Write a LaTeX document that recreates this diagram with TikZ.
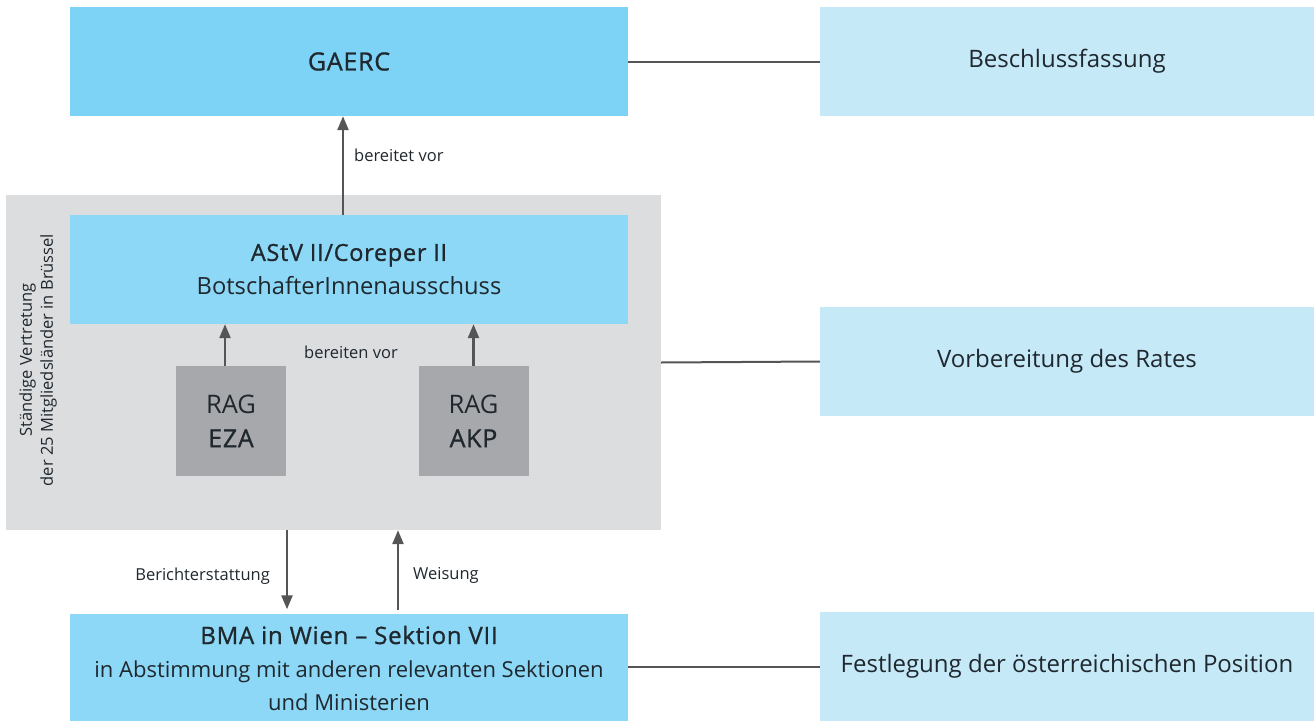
\documentclass[tikz,border=0pt]{standalone}
\usepackage{fontspec}
\setmainfont{Open Sans}
\newfontfamily\headfont{Open Sans}[FakeBold=1,LetterSpace=3]
\usetikzlibrary{arrows.meta,calc}
\definecolor{cgaerc}{HTML}{7DD3F5}
\definecolor{cmid}{HTML}{8DD8F6}
\definecolor{clight}{HTML}{C6E9F8}
\definecolor{cgray}{HTML}{DCDDDF}
\definecolor{crag}{HTML}{A7A8AB}
\definecolor{cline}{HTML}{555555}
\definecolor{ctext}{HTML}{1F282E}
\newcommand{\hd}[2]{{\fontsize{#1}{34}\headfont #2}}
\begin{document}
\begin{tikzpicture}[x=1pt,y=-1pt,
  box/.style={inner sep=0pt, align=center, text=ctext, font=\fontsize{24}{34}\selectfont},
  bigbox/.style={box, minimum width=558pt, minimum height=109pt},
  sidebox/.style={box, fill=clight, minimum width=494pt, minimum height=109pt},
  ragbox/.style={box, fill=crag, minimum width=110pt, minimum height=110pt, font=\fontsize{25.5}{34}\selectfont},
  lbl/.style={inner sep=0pt, text=ctext, font=\fontsize{16.5}{20}\selectfont},
  arr/.style={draw=cline, line width=2.4pt, -{Triangle[length=14pt,width=11pt]}},
  conn/.style={draw=cline, line width=2pt}]
\useasboundingbox (0,0) rectangle (1314,720);
% containers and boxes
\node[box, fill=cgray, minimum width=655pt, minimum height=335pt] (gray) at (333.5,362.5) {};
\node[bigbox, fill=cgaerc] (gaerc) at (349,61.5) {\hd{25}{GAERC}};
\node[sidebox] (besch) at (1067,61.5) {Beschlussfassung};
\node[bigbox, fill=cmid, font=\fontsize{23.7}{34}\selectfont] (astv) at (349,269.5) {\hd{23.5}{AStV II/Coreper II}\\BotschafterInnenausschuss};
\node[ragbox] (eza) at (231,421) {RAG\\\hd{25}{EZA}};
\node[ragbox] (akp) at (473.5,421) {RAG\\\hd{25}{AKP}};
\node[sidebox] (vorb) at (1067,361.5) {Vorbereitung des Rates};
\node[bigbox, fill=cmid, font=\fontsize{22}{33}\selectfont] (bma) at (349,668) {\hd{24}{BMA in Wien – Sektion VII}\\in Abstimmung mit anderen relevanten Sektionen\\und Ministerien};
\node[sidebox] (fest) at (1067,666.5) {Festlegung der österreichischen Position};
\node[rotate=90, align=center, inner sep=0pt, text=ctext, font=\fontsize{16.5}{21}\selectfont] (sv) at (38,360) {Ständige Vertretung\\der 25 Mitgliedsländer in Brüssel};
\node[lbl] (bv) at (351,352) {bereiten vor};
% connectors
\draw[conn] (gaerc.east) -- (besch.west);
\draw[conn] (gray.east) -- (vorb.west);
\draw[conn] (bma.east |- fest.west) -- (fest.west);
\coordinate (a1) at ([xshift=-6pt]astv.north);
\draw[arr] (a1) -- (a1 |- gaerc.south) node[lbl, pos=0.6, anchor=west, xshift=10pt] (l1) {bereitet vor};
\coordinate (e1) at ([xshift=-6pt]eza.north);
\draw[arr] (e1) -- (e1 |- astv.south);
\coordinate (k1) at (akp.north);
\draw[arr] (k1) -- (k1 |- astv.south);
\coordinate (bx) at (287,0);
\coordinate (wx) at (398,0);
\draw[arr, shorten >=4pt] (bx |- gray.south) -- (bx |- bma.north) node[lbl, pos=0.55, anchor=east, xshift=-16pt] (l2) {Berichterstattung};
\draw[arr, shorten <=3pt] (wx |- bma.north) -- (wx |- gray.south) node[lbl, pos=0.46, anchor=west, xshift=14pt] (l3) {Weisung};
\end{tikzpicture}
\end{document}
